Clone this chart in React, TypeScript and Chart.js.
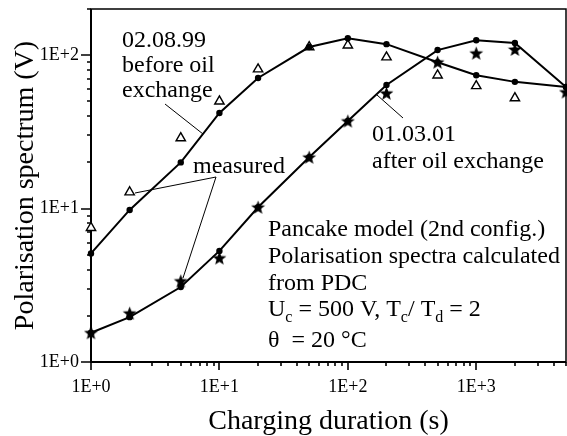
import React, { useEffect, useRef } from 'react';
import { Chart, registerables } from 'chart.js';

Chart.register(...registerables);

// Charging durations (s) at which the spectra are evaluated
const durations = [1, 2, 5, 10, 20, 50, 100, 200, 500, 1000, 2000, 5000];
const measuredBeforeDurations = [1, 2, 5, 10, 20, 50, 100, 200, 500, 1000, 2000];

// Polarisation spectrum (V), 02.08.99 before oil exchange
const beforeCalculated = [5.1, 9.8, 20, 42, 71, 113, 129, 118, 90, 74, 67, 62];
const beforeMeasured = [7.5, 12.8, 28.8, 50, 81, 113, 116, 97, 74, 63, 52.5];

// Polarisation spectrum (V), 01.03.01 after oil exchange
const afterCalculated = [1.55, 1.96, 3.08, 5.3, 10.2, 21.6, 37.2, 64, 108, 125, 120, 62];
const afterMeasured = [1.55, 2.08, 3.37, 4.76, 10.2, 21.6, 37.2, 56.5, 90, 103, 109, 57.5];

// Axis ticks
const xTickValues = [1, 10, 100, 1000];
const xTickLabels = ['1E+0', '1E+1', '1E+2', '1E+3'];
const xMinorTicks = [2, 3, 4, 5, 6, 7, 8, 9, 20, 30, 40, 50, 60, 70, 80, 90, 200, 300, 400, 500, 600, 700, 800, 900, 2000, 3000, 4000, 5000];
const yTickValues = [1, 10, 100];
const yTickLabels = ['1E+0', '1E+1', '1E+2'];
const yMinorTicks = [2, 3, 4, 5, 6, 7, 8, 9, 20, 30, 40, 50, 60, 70, 80, 90, 200];

const SERIF = '"Liberation Serif", "Times New Roman", serif';

function makeStar(size: number): HTMLCanvasElement {
  const c = document.createElement('canvas');
  c.width = size;
  c.height = size;
  const g = c.getContext('2d')!;
  const cx = size / 2;
  const cy = size / 2 + 0.6;
  const R = size / 2 - 0.2;
  const r = R * 0.42;
  g.beginPath();
  for (let i = 0; i < 10; i++) {
    const ang = -Math.PI / 2 + (i * Math.PI) / 5;
    const rad = i % 2 === 0 ? R : r;
    g.lineTo(cx + rad * Math.cos(ang), cy + rad * Math.sin(ang));
  }
  g.closePath();
  g.fillStyle = '#000';
  g.fill();
  return c;
}

type Seg = { t: string; sub?: boolean };

function drawSegments(ctx: CanvasRenderingContext2D, segs: Seg[], x: number, y: number) {
  let cx = x;
  for (const s of segs) {
    ctx.font = s.sub ? `16px ${SERIF}` : `24px ${SERIF}`;
    ctx.fillText(s.t, cx, s.sub ? y + 6 : y);
    cx += ctx.measureText(s.t).width;
  }
}

const decorations = {
  id: 'decorations',
  beforeDatasetsDraw(chart: any) {
    const { ctx, chartArea: a, scales } = chart;
    const xs = scales.x;
    const ys = scales.y;
    ctx.save();
    ctx.strokeStyle = '#000';
    ctx.lineCap = 'butt';
    // plot frame
    ctx.lineWidth = 1.5;
    ctx.strokeRect(a.left, a.top, a.right - a.left, a.bottom - a.top);
    ctx.lineWidth = 2;
    ctx.beginPath();
    ctx.moveTo(a.left, a.top);
    ctx.lineTo(a.left, a.bottom);
    ctx.lineTo(a.right, a.bottom);
    ctx.stroke();
    // tick marks
    ctx.lineWidth = 1.6;
    ctx.beginPath();
    for (const v of xTickValues) {
      const px = Math.round(xs.getPixelForValue(v));
      ctx.moveTo(px, a.bottom);
      ctx.lineTo(px, a.bottom + 8);
    }
    for (const v of xMinorTicks) {
      const px = Math.round(xs.getPixelForValue(v));
      ctx.moveTo(px, a.bottom);
      ctx.lineTo(px, a.bottom + 4);
    }
    for (const v of yTickValues) {
      const py = Math.round(ys.getPixelForValue(v));
      ctx.moveTo(a.left - 10, py);
      ctx.lineTo(a.left, py);
    }
    for (const v of yMinorTicks) {
      const py = Math.round(ys.getPixelForValue(v));
      ctx.moveTo(a.left - 4, py);
      ctx.lineTo(a.left, py);
    }
    ctx.stroke();
    ctx.restore();
  },
  afterDraw(chart: any) {
    const { ctx, chartArea: a } = chart;
    const L = a.left;
    const T = a.top;
    ctx.save();
    ctx.fillStyle = '#000';
    ctx.strokeStyle = '#000';
    ctx.textAlign = 'left';
    ctx.textBaseline = 'alphabetic';
    ctx.font = `24px ${SERIF}`;

    ctx.fillText('02.08.99', L + 31, T + 38);
    ctx.fillText('before oil', L + 31, T + 63);
    ctx.fillText('exchange', L + 31, T + 88);
    ctx.fillText('measured', L + 102, T + 164);
    ctx.fillText('01.03.01', L + 281, T + 132);
    ctx.fillText('after oil exchange', L + 281, T + 159);

    ctx.fillText('Pancake model (2nd config.)', L + 177, T + 227);
    ctx.fillText('Polarisation spectra calculated', L + 177, T + 254);
    ctx.fillText('from PDC', L + 177, T + 281);
    drawSegments(ctx, [
      { t: 'U' }, { t: 'c', sub: true }, { t: ' = 500 V, T' }, { t: 'c', sub: true },
      { t: '/ T' }, { t: 'd', sub: true }, { t: ' = 2' },
    ], L + 177, T + 307);
    ctx.font = `24px ${SERIF}`;
    ctx.fillText('\u03B8  = 20 \u00B0C', L + 177, T + 338);

    // leader lines
    ctx.lineWidth = 1;
    ctx.beginPath();
    ctx.moveTo(L + 74, T + 95);
    ctx.lineTo(L + 112, T + 125);
    ctx.moveTo(L + 125, T + 168);
    ctx.lineTo(L + 44, T + 184);
    ctx.moveTo(L + 125, T + 168);
    ctx.lineTo(L + 92, T + 269);
    ctx.moveTo(L + 312, T + 109);
    ctx.lineTo(L + 286, T + 86);
    ctx.stroke();
    ctx.restore();
  },
};

function tickLabel(values: number[], labels: string[]) {
  return (v: any) => {
    const i = values.findIndex((t) => Math.abs(t - Number(v)) < 1e-9 * t);
    return i >= 0 ? labels[i] : '';
  };
}

function noPadding(s: any) {
  s.paddingTop = 0;
  s.paddingBottom = 0;
  s.paddingLeft = 0;
  s.paddingRight = 0;
}

export default function App() {
  const ref = useRef<HTMLCanvasElement | null>(null);

  useEffect(() => {
    if (!ref.current) return;
    const star = makeStar(15);
    const pts = (xs: number[], ys: number[]) => ys.map((y, i) => ({ x: xs[i], y }));

    const chart = new Chart(ref.current, {
      type: 'line',
      data: {
        datasets: [
          {
            label: '02.08.99 calculated',
            data: pts(durations, beforeCalculated),
            borderColor: '#000',
            backgroundColor: '#000',
            borderWidth: 2,
            pointRadius: 2.2,
            pointStyle: 'circle',
            tension: 0,
            clip: false,
            order: 1,
          },
          {
            label: '01.03.01 calculated',
            data: pts(durations, afterCalculated),
            borderColor: '#000',
            backgroundColor: '#000',
            borderWidth: 2,
            pointRadius: 2.2,
            pointStyle: 'circle',
            tension: 0,
            clip: false,
            order: 2,
          },
          {
            label: '02.08.99 measured',
            data: pts(measuredBeforeDurations, beforeMeasured),
            showLine: false,
            borderColor: '#000',
            backgroundColor: '#fff',
            pointBorderWidth: 1.4,
            pointRadius: 5.4,
            pointStyle: 'triangle',
            clip: false,
            order: 3,
          },
          {
            label: '01.03.01 measured',
            data: pts(durations, afterMeasured),
            showLine: false,
            borderColor: '#000',
            backgroundColor: '#000',
            pointRadius: 7,
            pointStyle: star as any,
            clip: false,
            order: 4,
          },
        ],
      },
      options: {
        responsive: false,
        animation: false,
        events: [],
        layout: { autoPadding: false, padding: { top: 9, right: 1, left: 0, bottom: 0 } },
        plugins: { legend: { display: false }, tooltip: { enabled: false } },
        scales: {
          x: {
            type: 'logarithmic',
            min: 1,
            max: 5000,
            grid: { display: false, drawTicks: false },
            border: { display: false },
            afterBuildTicks: (s: any) => {
              s.ticks = xTickValues.map((v) => ({ value: v, major: true }));
            },
            afterFit: (s: any) => {
              s.height = 74;
              noPadding(s);
            },
            ticks: {
              autoSkip: false,
              maxRotation: 0,
              padding: 14,
              color: '#000',
              font: { family: SERIF, size: 18 },
              callback: tickLabel(xTickValues, xTickLabels),
            },
            title: {
              display: true,
              text: 'Charging duration (s)',
              color: '#000',
              font: { family: SERIF, size: 28, lineHeight: 1 },
              padding: { top: 0, bottom: 0 },
            },
          },
          y: {
            type: 'logarithmic',
            min: 1,
            max: 200,
            grid: { display: false, drawTicks: false },
            border: { display: false },
            afterBuildTicks: (s: any) => {
              s.ticks = yTickValues.map((v) => ({ value: v, major: true }));
            },
            afterFit: (s: any) => {
              s.width = 91;
              noPadding(s);
            },
            ticks: {
              autoSkip: false,
              padding: 12,
              color: '#000',
              font: { family: SERIF, size: 18 },
              callback: tickLabel(yTickValues, yTickLabels),
            },
            title: {
              display: true,
              text: 'Polarisation spectrum (V)',
              color: '#000',
              font: { family: SERIF, size: 28, lineHeight: 1.2 },
              padding: { top: 9, bottom: 0 },
            },
          },
        },
      },
      plugins: [decorations],
    } as any);

    return () => chart.destroy();
  }, []);

  return (
    <div style={{ position: 'absolute', left: 0, top: 0, width: 567, height: 436, background: '#fff' }}>
      <canvas ref={ref} width={567} height={436} style={{ display: 'block' }} />
    </div>
  );
}
